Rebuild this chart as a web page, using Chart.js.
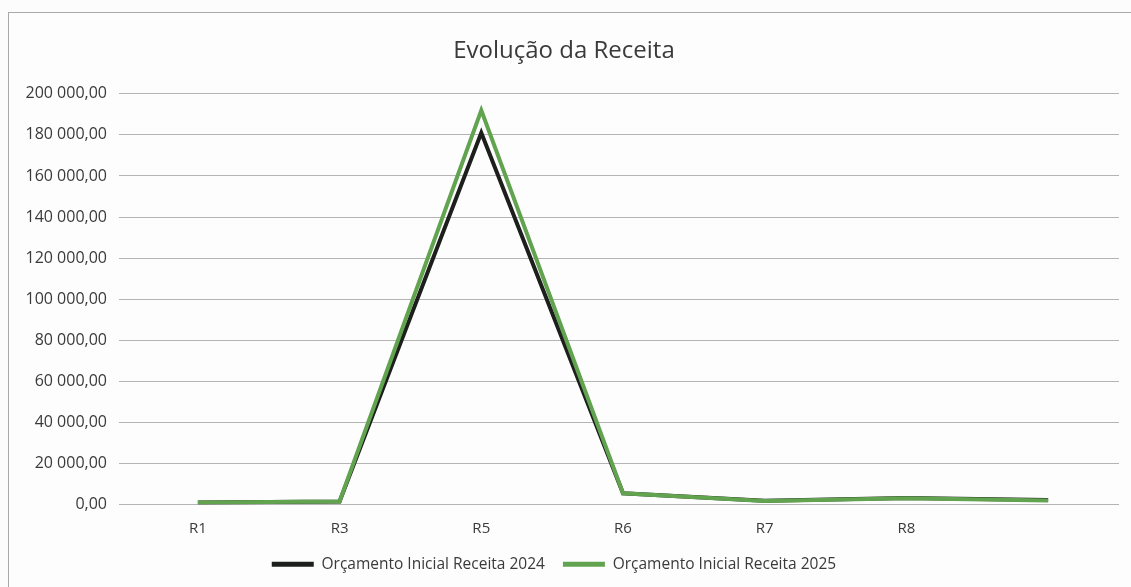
<!DOCTYPE html>
<html>
<head>
<meta charset="utf-8">
<script src="https://cdn.jsdelivr.net/npm/chart.js@4"></script>
<style>
  html, body { margin: 0; padding: 0; background: #fdfcfd; }
  #wrap { position: absolute; left: 8px; top: 12px; width: 1123px; height: 575px;
          border-left: 1px solid #a9a9a9; border-top: 1px solid #a9a9a9; background: #fefdfe; }
</style>
</head>
<body>
<div id="wrap"><canvas id="receitaChart" width="1122" height="574"></canvas></div>
<script>
// === EVOLUÇÃO DA RECEITA ===

const categories = ['R1', 'R3', 'R5', 'R6', 'R7', 'R8', ''];
const receita2024 = [1000, 1500, 181000, 5500, 1800, 3200, 2200];
const receita2025 = [1000, 1500, 192000, 5500, 1700, 3000, 2000];
const yTicks = [0, 20000, 40000, 60000, 80000, 100000, 120000, 140000, 160000, 180000, 200000];

const FONT = '"Open Sans", "Noto Sans", sans-serif';

function formatPt(v) {
    const parts = v.toFixed(2).split('.');
    return parts[0].replace(/\B(?=(\d{3})+(?!\d))/g, ' ') + ',' + parts[1];
}

const ctx = document.getElementById('receitaChart').getContext('2d');
const chart = new Chart(ctx, {
    type: 'line',
    data: {
        labels: categories,
        datasets: [
            { label: 'Orçamento Inicial Receita 2024', data: receita2024, borderColor: '#1c1f1c', backgroundColor: '#1c1f1c',
              borderWidth: 4, pointRadius: 0, tension: 0, order: 2 },
            { label: 'Orçamento Inicial Receita 2025', data: receita2025, borderColor: '#62a34f', backgroundColor: '#62a34f',
              borderWidth: 4, pointRadius: 0, tension: 0, order: 1 }
        ]
    },
    options: {
        responsive: false, animation: false,
        layout: { padding: { left: 0, right: 12, top: 0, bottom: 5 } },
        plugins: {
            title: { display: true, text: 'Evolução da Receita', color: '#3a3a3a',
                     font: { family: FONT, size: 24, weight: 'normal' }, padding: { top: 24, bottom: 28 } },
            legend: { position: 'bottom', labels: { color: '#3a3a3a', usePointStyle: true, pointStyle: 'line',
                      pointStyleWidth: 42, padding: 18, font: { family: FONT, size: 15.5 },
                      sort: (a, b) => a.datasetIndex - b.datasetIndex,
                      generateLabels: c => Chart.defaults.plugins.legend.labels.generateLabels(c)
                          .map((it, i) => { it.lineWidth = 5; if (i === 0) it.text += '     '; return it; }) } },
            tooltip: { enabled: false }
        },
        scales: {
            x: {
                offset: true,
                grid: { display: false },
                border: { display: false },
                ticks: { color: '#3a3a3a', padding: 7, font: { family: FONT, size: 15 } },
                afterFit: s => { s.height = 34; }
            },
            y: {
                min: 0, max: 200000,
                afterBuildTicks: s => { s.ticks = yTicks.map(v => ({ value: v })); },
                grid: { color: '#b4b4b4', lineWidth: 1, drawTicks: true, tickLength: 8 },
                border: { display: false },
                ticks: { color: '#3a3a3a', padding: 12, font: { family: FONT, size: 16 }, callback: v => formatPt(v) },
                afterFit: s => { s.width = 118; }
            }
        }
    }
});
</script>
</body>
</html>
